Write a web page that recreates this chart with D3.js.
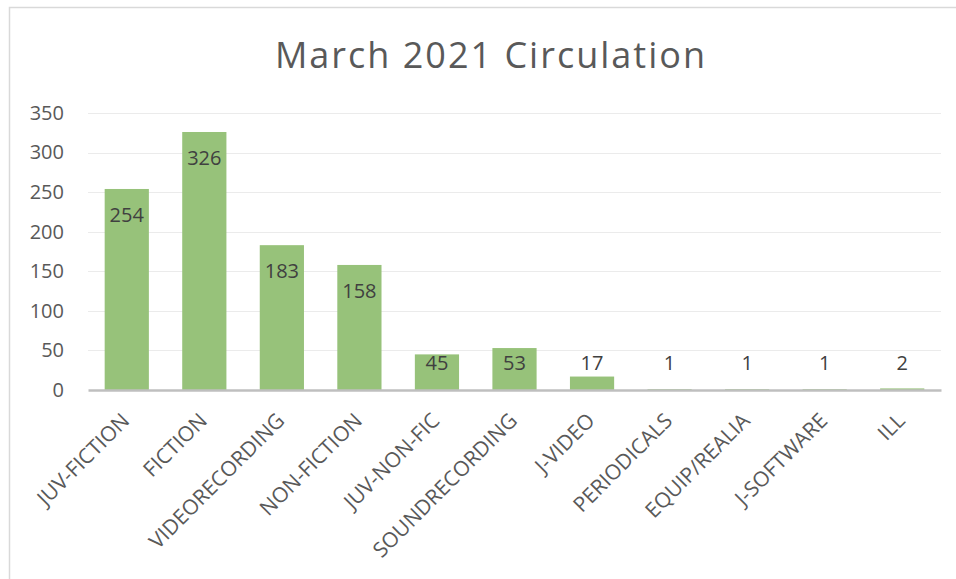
<!DOCTYPE html>
<html>
<head>
<meta charset="utf-8">
<script src="https://cdn.jsdelivr.net/npm/d3@7"></script>
<style>
  body { margin: 0; background: #fff; }
  svg { display: block; font-family: "Open Sans", Lato, sans-serif; }
</style>
</head>
<body>
<svg id="chart" width="956" height="579"></svg>
<script>
// chart data
var categories = ['JUV-FICTION', 'FICTION', 'VIDEORECORDING', 'NON-FICTION', 'JUV-NON-FIC',
  'SOUNDRECORDING', 'J-VIDEO', 'PERIODICALS', 'EQUIP/REALIA', 'J-SOFTWARE', 'ILL'];
var counts = [254, 326, 183, 158, 45, 53, 17, 1, 1, 1, 2];
var yTicks = [0, 50, 100, 150, 200, 250, 300, 350];
var title = 'March 2021 Circulation';

var svg = d3.select('#chart');

// plot area (don't call it "top", that's window.top)
var plotLeft = 88, plotRight = 941, plotTop = 113, plotBottom = 390;
var fontFam = '"Open Sans", Lato, sans-serif';

// outer frame of the chart area
svg.append('rect')
  .attr('x', 9.5).attr('y', 7.5)
  .attr('width', 960).attr('height', 600)
  .attr('fill', '#fff')
  .attr('stroke', '#d9d9d9')
  .attr('stroke-width', 1.5);

svg.append('text')
  .attr('x', 491).attr('y', 68)
  .attr('text-anchor', 'middle')
  .attr('font-size', 36)
  .attr('letter-spacing', 2)
  .attr('fill', '#595959')
  .text(title);

var x = d3.scaleBand()
  .domain(categories)
  .range([plotLeft, plotRight])
  .paddingInner(0.43)
  .paddingOuter(0.215);

var y = d3.scaleLinear()
  .domain([0, 350])
  .range([plotBottom, plotTop]);

// gridlines
svg.append('g')
  .selectAll('line')
  .data(yTicks.slice(1))
  .enter()
  .append('line')
  .attr('x1', plotLeft).attr('x2', plotRight)
  .attr('y1', function (d) { return Math.round(y(d)) + 0.5; })
  .attr('y2', function (d) { return Math.round(y(d)) + 0.5; })
  .attr('stroke', '#ebebeb')
  .attr('stroke-width', 1);

// y axis labels
var yAxis = svg.append('g')
  .attr('transform', 'translate(' + plotLeft + ',0)')
  .call(d3.axisLeft(y).tickValues(yTicks).tickSize(0).tickPadding(24));
yAxis.select('.domain').remove();
yAxis.selectAll('text')
  .attr('font-size', 20)
  .attr('font-family', fontFam)
  .attr('fill', '#595959');

// bars
svg.append('g')
  .selectAll('rect')
  .data(counts)
  .enter()
  .append('rect')
  .attr('x', function (d, i) { return x(categories[i]); })
  .attr('width', x.bandwidth())
  .attr('y', function (d) { return y(d); })
  .attr('height', function (d) { return plotBottom - y(d); })
  .attr('fill', '#97c27a');

// x axis line + labels
var xAxis = svg.append('g')
  .attr('transform', 'translate(0,' + plotBottom + ')')
  .call(d3.axisBottom(x).tickSize(0).tickPadding(0));
xAxis.select('.domain')
  .attr('stroke', '#bfbfbf')
  .attr('stroke-width', 2.5);
xAxis.selectAll('text')
  .attr('font-size', 21)
  .attr('font-family', fontFam)
  .attr('fill', '#595959')
  .attr('text-anchor', 'end')
  .attr('dy', 0)
  .attr('transform', 'translate(4,32) rotate(-45)');

// data labels: inside end, kept above the axis for short bars
svg.append('g')
  .selectAll('text')
  .data(counts)
  .enter()
  .append('text')
  .attr('x', function (d, i) { return x(categories[i]) + x.bandwidth() / 2; })
  .attr('y', function (d) { return Math.min(y(d) + 26, plotBottom - 27); })
  .attr('dy', '0.35em')
  .attr('text-anchor', 'middle')
  .attr('font-size', 20)
  .attr('fill', '#404040')
  .text(function (d) { return d; });
</script>
</body>
</html>
